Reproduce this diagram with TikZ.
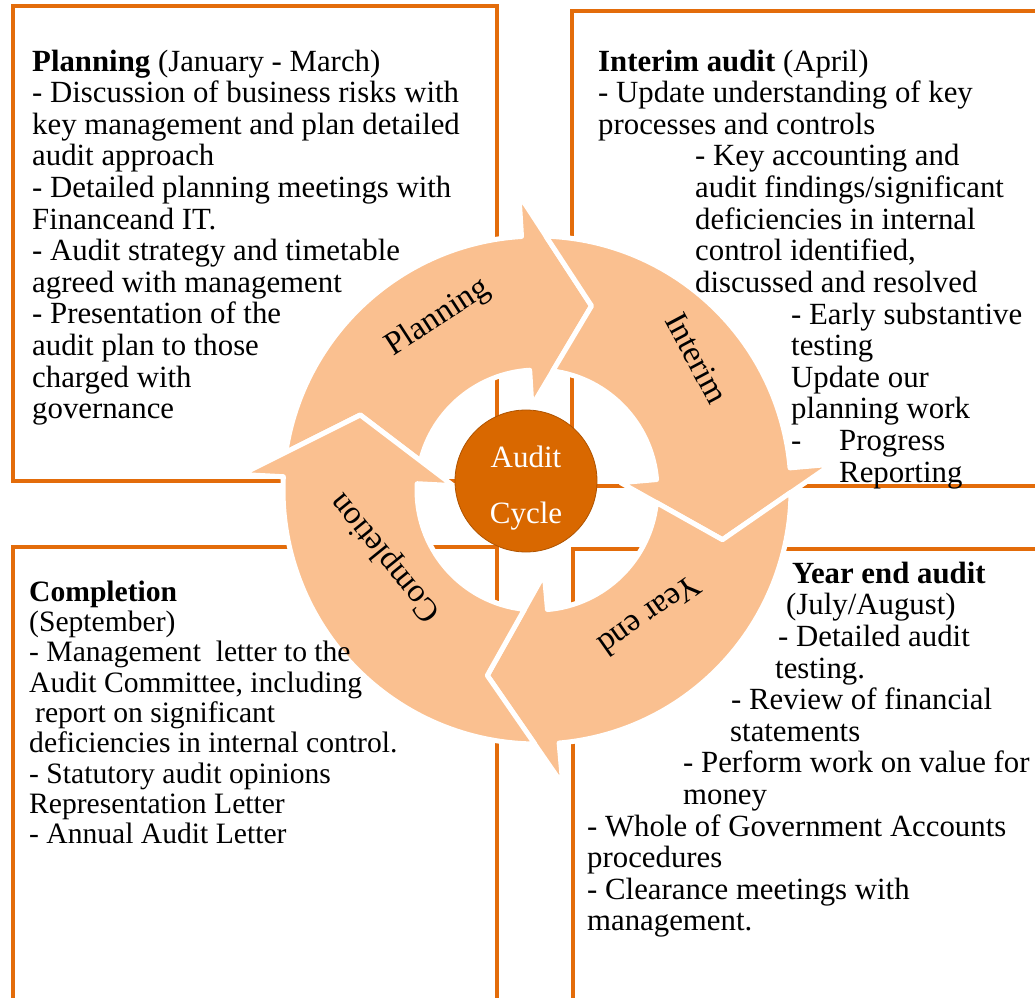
\documentclass[tikz,border=0pt]{standalone}
\usepackage{fontspec}
\setmainfont{Liberation Serif}
\usepackage{xcolor}
\definecolor{AuditOrange}{HTML}{E36C0A}
\definecolor{ArrowPeach}{HTML}{FAC090}
\definecolor{HubOrange}{HTML}{D96800}
\usepackage{tikz}
\usetikzlibrary{calc}

\begin{document}
\begin{tikzpicture}[
  x=1pt, y=1pt,
  panel/.style={draw=AuditOrange, line width=3.5pt},
  notes/.style={anchor=north west, inner sep=0pt, align=left, font=\fontsize{30.8}{31.6}\selectfont},
  cyclearrow/.style={fill=ArrowPeach, draw=white, line width=5pt, line join=round},
  stage/.style={inner sep=0pt, font=\fontsize{33}{36}\selectfont},
  hub/.style={circle, fill=HubOrange, draw=HubOrange!80!black, line width=0.8pt, minimum size=142pt, inner sep=0pt},
  hublabel/.style={align=center, text=white, inner sep=0pt, font=\fontsize{31}{56}\selectfont},
]
\useasboundingbox (0,0) rectangle (1035,997);
\clip (0,0) rectangle (1035,997);

% quarter panels
\draw[panel] (13,516) rectangle (497,991);
\draw[panel] (572,511) rectangle (1050,986);
\draw[panel] (13,-20) rectangle (497,450);
\draw[panel] (573,-20) rectangle (1050,448);

% ring of four arrows
\coordinate (ring) at (537,507);
\foreach \tailang/\headang in {177/93.5, 93.5/5, 5/-85, -85/-183}
  \path[cyclearrow] ($(ring)+({\tailang-5.5}:254)$)
    arc[start angle={\tailang-5.5}, end angle=\headang, radius=254pt]
    -- ($(ring)+(\headang:296)$) -- ($(ring)+({\headang-20}:192)$)
    -- ($(ring)+(\headang:84)$) -- ($(ring)+(\headang:120)$)
    arc[start angle=\headang, end angle={\tailang-11}, radius=120pt]
    -- ($(ring)+({\tailang-20}:192)$) -- cycle;

\node[stage, rotate=33] (planlbl) at (438,679) {Planning};
\node[stage, rotate=-62] (interimlbl) at (697,639) {Interim};
\node[stage, rotate=215] (yearlbl) at (650,381) {Year end};
\node[stage, rotate=129] (complbl) at (386,440) {Completion};

\node[hub] (hub) at (526,516) {};
\node[hublabel] (hubtext) at ([yshift=-7pt]hub.center) {Audit\\Cycle};

% texts
\node[notes] (plantext) at (32,950) {\rule{0pt}{24pt}\textbf{Planning} (January - March)\\
- Discussion of business risks with\\
key management and plan detailed\\
audit approach\\
- Detailed planning meetings with\\
Financeand IT.\\
- Audit strategy and timetable\\
agreed with management\\
- Presentation of the\\
audit plan to those\\
charged with\\
governance};

\node[notes] (interimtext) at (598,950) {\rule{0pt}{24pt}\textbf{Interim audit} (April)\\
- Update understanding of key\\
processes and controls\\
\hspace*{97pt}- Key accounting and\\
\hspace*{97pt}audit findings/significant\\
\hspace*{97pt}deficiencies in internal\\
\hspace*{97pt}control identified,\\
\hspace*{97pt}discussed and resolved\\
\hspace*{193pt}- Early substantive\\
\hspace*{193pt}testing\\
\hspace*{193pt}Update our\\
\hspace*{193pt}planning work\\
\hspace*{193pt}\makebox[48pt][l]{-}Progress\\
\hspace*{241pt}Reporting};

\node[notes] (yeartext) at (587,438) {\rule{0pt}{24pt}\hspace*{205pt}\textbf{Year end audit}\\
\hspace*{199pt}(July/August)\\
\hspace*{191pt}- Detailed audit\\
\hspace*{188pt}testing.\\
\hspace*{144pt}- Review of financial\\
\hspace*{143pt}statements\\
\hspace*{96pt}- Perform work on value for\\
\hspace*{96pt}money\\
- Whole of Government Accounts\\
procedures\\
- Clearance meetings with\\
management.};

\node[notes, font=\fontsize{29.6}{30.3}\selectfont] (comptext) at (29,420) {\rule{0pt}{24pt}\textbf{Completion}\\
(September)\\
- Management\ \ letter to the\\
Audit Committee, including\\
\hspace*{6pt}report on significant\\
deficiencies in internal control.\\
- Statutory audit opinions\\
Representation Letter\\
- Annual Audit Letter};
\end{tikzpicture}
\end{document}
